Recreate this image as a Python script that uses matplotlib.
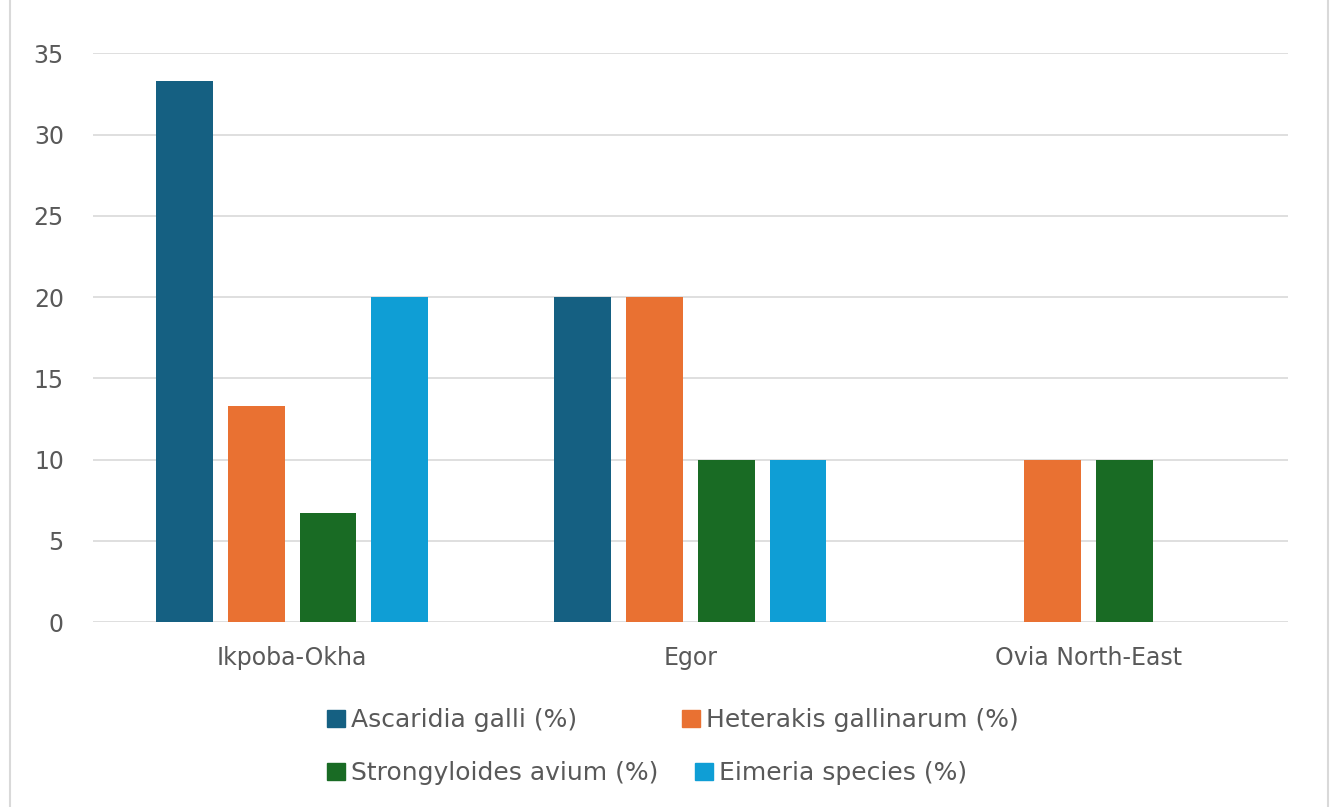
import numpy as np
import matplotlib.pyplot as plt
from matplotlib.lines import Line2D
from matplotlib.patches import Patch

plt.rcParams['font.family'] = ['DejaVu Sans']

regions = ['Ikpoba-Okha', 'Egor', 'Ovia North-East']
series = ['Ascaridia galli (%)', 'Heterakis gallinarum (%)',
          'Strongyloides avium (%)', 'Eimeria species (%)']
ascaridia = [33.3, 20, 0]
heterakis = [13.3, 20, 10]
strongyloides = [6.7, 10, 10]
eimeria = [20, 10, 0]
yticks = [0, 5, 10, 15, 20, 25, 30, 35]

colors = ['#156082', '#e97132', '#196b24', '#0f9ed5']
values = [ascaridia, heterakis, strongyloides, eimeria]
txt = '#595959'
fs = 17

fig = plt.figure(figsize=(13.36, 8.07), dpi=100)
ax = fig.add_axes([0.0696, 0.229, 0.8944, 0.705])

x = np.arange(len(regions))
step = 0.18
for i, (name, vals, c) in enumerate(zip(series, values, colors)):
    ax.bar(x + (i - 1.5) * step, vals, width=0.143, color=c, label=name, zorder=3)

ax.set_xlim(-0.5, 2.5)
ax.set_ylim(0, 35)
ax.set_yticks(yticks)
ax.set_xticks(x)
ax.set_xticklabels(regions)
ax.grid(axis='y', color='#d9d9d9', linewidth=1.2, zorder=0)
for s in ax.spines.values():
    s.set_visible(False)
ax.tick_params(length=0, colors=txt, labelsize=fs)
ax.tick_params(axis='x', pad=17)
ax.tick_params(axis='y', pad=21)

# legend entries placed like the Excel flow layout (two rows)
W, H = 1336, 807
spots = [(327, 720), (682, 720), (327, 773), (695, 773)]
for (px, py), name, c in zip(spots, series, colors):
    fig.legend([Patch(color=c)], [name], loc='center left',
               bbox_to_anchor=(px / W, 1 - py / H), frameon=False,
               fontsize=18, handlelength=0.7, handleheight=0.7,
               handletextpad=0.25, borderpad=0, borderaxespad=0,
               labelcolor=txt)

# outer chart border
fig.add_artist(Line2D([0.0075, 0.0075], [0, 1], color='#d9d9d9', lw=1.5))
fig.add_artist(Line2D([0.994, 0.994], [0, 1], color='#d9d9d9', lw=1.5))

fig.savefig('out.png', dpi=100)
